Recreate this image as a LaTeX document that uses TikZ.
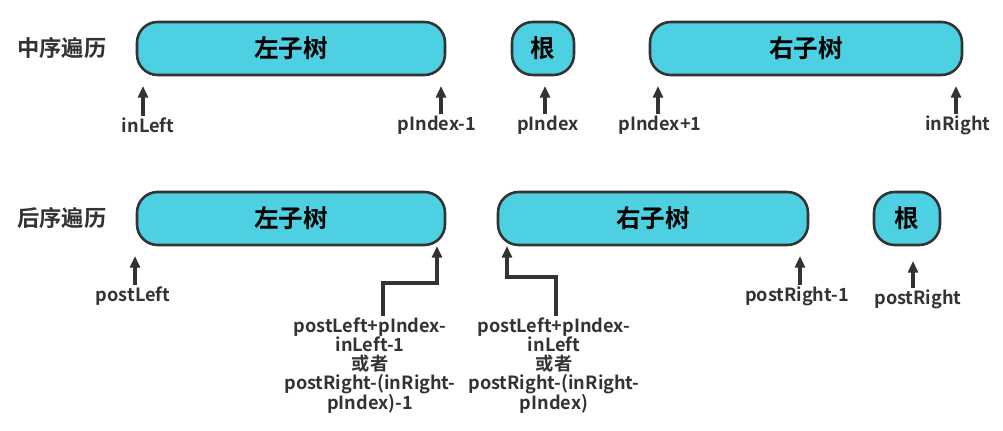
\documentclass[tikz,border=0pt]{standalone}
\usepackage{fontspec}
\setmainfont{Noto Sans CJK SC}[BoldFont={Noto Sans CJK SC Bold}]
\usetikzlibrary{arrows.meta}
\definecolor{boxcyan}{HTML}{4DD0E1}
\definecolor{inkgray}{HTML}{333333}
\tikzset{
  seg/.style={draw=inkgray, line width=2.2pt, fill=boxcyan, rounded corners=0.62cm,
    font=\fontsize{21}{24}\selectfont\bfseries, text=black},
  lbl/.style={font=\fontsize{15.5}{16.2}\selectfont\bfseries, text=inkgray, inner sep=1pt, align=center},
  rowname/.style={font=\fontsize{19}{22}\selectfont\bfseries, text=inkgray},
  arr/.style={-{Triangle[length=10pt,width=8.5pt]}, line width=2.6pt, draw=inkgray}
}
\begin{document}
\begin{tikzpicture}[x=0.03cm, y=-0.03cm]
                \useasboundingbox (0,0) rectangle (1003,431);

                % Fila de arriba
                \node[rowname] (inorder) at (62,48) {中序遍历};
                \draw[seg] (137,22) rectangle (445,75);
                \node[seg, draw=none, fill=none] (inlt) at (291,48) {左子树};
                \draw[seg] (512,22) rectangle (574,75);
                \node[seg, draw=none, fill=none] (inroot) at (543,48) {根};
                \draw[seg] (650,22) rectangle (962,75);
                \node[seg, draw=none, fill=none] (inrt) at (806,48) {右子树};

                % Indices de arriba
                \node[lbl] (inl) at (148,125) {inLeft};
                \node[lbl] (pim) at (437,125) {pIndex-1};
                \node[lbl] (pix) at (548,125) {pIndex};
                \node[lbl] (pip) at (660,125) {pIndex+1};
                \node[lbl] (inr) at (958,125) {inRight};
                \coordinate (t1) at (143,86);
                \coordinate (t2) at (441,86);
                \coordinate (t3) at (545,86);
                \coordinate (t4) at (658,86);
                \coordinate (t5) at (956,86);
                \draw[arr] (inl.north -| t1) -- (t1);
                \draw[arr] (pim.north -| t2) -- (t2);
                \draw[arr] (pix.north -| t3) -- (t3);
                \draw[arr] (pip.north -| t4) -- (t4);
                \draw[arr] (inr.north -| t5) -- (t5);

                % Fila de abajo
                \node[rowname] (postorder) at (62,218) {后序遍历};
                \draw[seg] (137,192) rectangle (445,245);
                \node[seg, draw=none, fill=none] (postlt) at (291,218) {左子树};
                \draw[seg] (498,192) rectangle (808,245);
                \node[seg, draw=none, fill=none] (postrt) at (653,218) {右子树};
                \draw[seg] (874,192) rectangle (940,245);
                \node[seg, draw=none, fill=none] (postroot) at (907,218) {根};

                % Indices de abajo
                \node[lbl] (pl) at (133,296) {postLeft};
                \node[lbl] (pr1) at (797,296) {postRight-1};
                \node[lbl] (pr) at (918,299) {postRight};
                \coordinate (t6) at (135,256);
                \coordinate (t7) at (800,256);
                \coordinate (t8) at (913,261);
                \draw[arr] (pl.north -| t6) -- (t6);
                \draw[arr] (pr1.north -| t7) -- (t7);
                \draw[arr] (pr.north -| t8) -- (t8);

                % Flechas con codo
                \node[lbl, anchor=north] (lend) at (370,316) {postLeft+pIndex-\\inLeft-1\\或者\\postRight-(inRight-\\pIndex)-1};
                \node[lbl, anchor=north] (rbeg) at (554,316) {postLeft+pIndex-\\inLeft\\或者\\postRight-(inRight-\\pIndex)};
                \coordinate (t9) at (437,246);
                \coordinate (t10) at (507,246);
                \draw[arr] (383,316) |- (437,283) -- (t9);
                \draw[arr] (556,316) |- (507,277) -- (t10);
            \end{tikzpicture}
\end{document}
